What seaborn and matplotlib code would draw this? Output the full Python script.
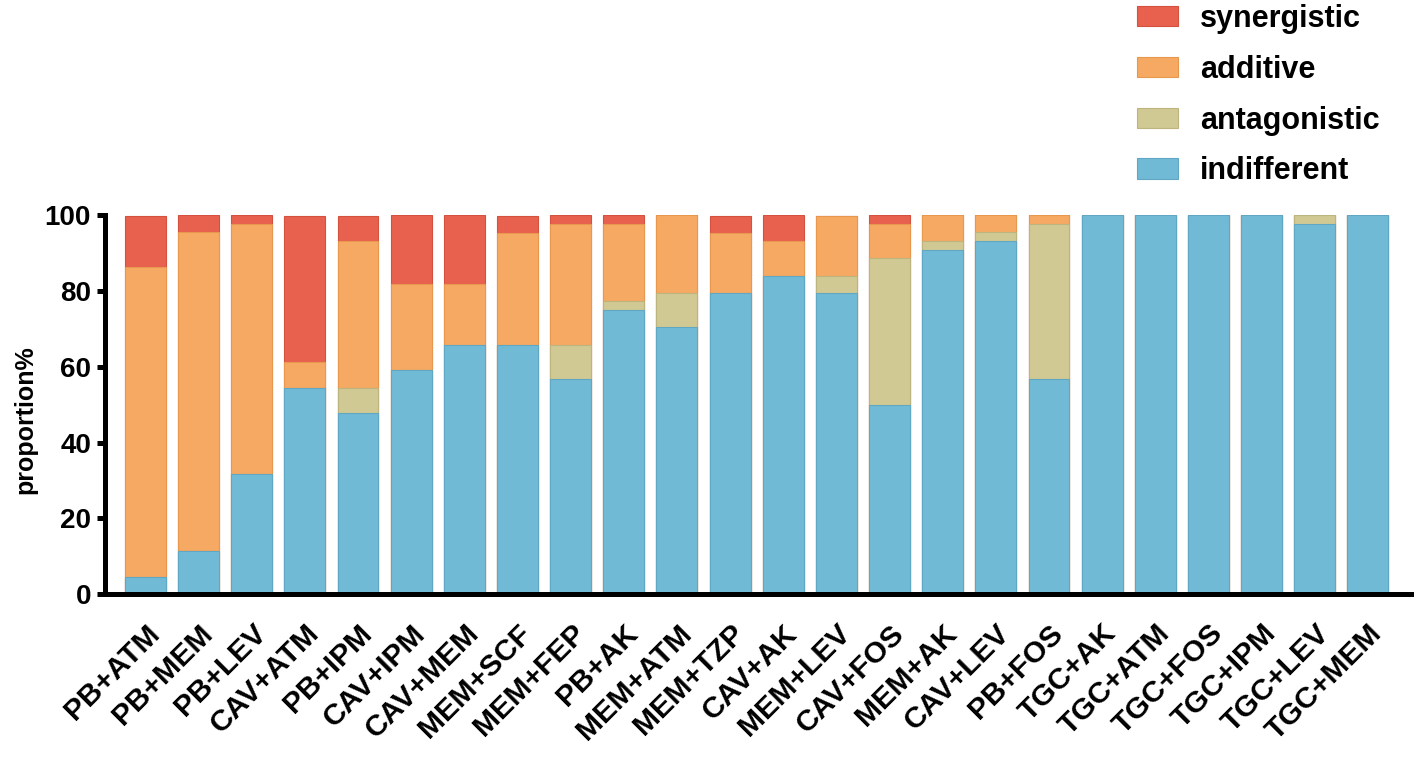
import matplotlib
matplotlib.use("Agg")
import matplotlib.pyplot as plt
from matplotlib.patches import Patch
import numpy as np
import pandas as pd
import seaborn as sns

# drug combinations along the x axis
combos = ["PB+ATM", "PB+MEM", "PB+LEV", "CAV+ATM", "PB+IPM", "CAV+IPM",
          "CAV+MEM", "MEM+SCF", "MEM+FEP", "PB+AK", "MEM+ATM", "MEM+TZP",
          "CAV+AK", "MEM+LEV", "CAV+FOS", "MEM+AK", "CAV+LEV", "PB+FOS",
          "TGC+AK", "TGC+ATM", "TGC+FOS", "TGC+IPM", "TGC+LEV", "TGC+MEM"]

# proportion (%) of each interaction type per combination
indifferent = [4.5, 11.4, 31.8, 54.5, 47.7, 59.1, 65.9, 65.9, 56.8, 75.0, 70.5, 79.5,
               84.1, 79.5, 50.0, 90.9, 93.2, 56.8, 100, 100, 100, 100, 97.7, 100]
antagonistic = [0, 0, 0, 0, 6.8, 0, 0, 0, 9.1, 2.3, 9.1, 0,
                0, 4.5, 38.6, 2.3, 2.3, 40.9, 0, 0, 0, 0, 2.3, 0]
additive = [81.8, 84.1, 65.9, 6.8, 38.6, 22.7, 15.9, 29.5, 31.8, 20.5, 20.5, 15.9,
            9.1, 15.9, 9.1, 6.8, 4.5, 2.3, 0, 0, 0, 0, 0, 0]
synergistic = [13.6, 4.5, 2.3, 38.6, 6.8, 18.2, 18.2, 4.5, 2.3, 2.3, 0, 4.5,
               6.8, 0, 2.3, 0, 0, 0, 0, 0, 0, 0, 0, 0]

# bottom-to-top stacking order
categories = ["indifferent", "antagonistic", "additive", "synergistic"]
colors = {"synergistic": "#E8614F", "additive": "#F6A962",
          "antagonistic": "#D1C993", "indifferent": "#71BAD5"}
edges = {"synergistic": "#D4503F", "additive": "#E8974F",
         "antagonistic": "#BDB47E", "indifferent": "#5FA7C3"}

df = pd.DataFrame({"combo": combos, "indifferent": indifferent,
                   "antagonistic": antagonistic, "additive": additive,
                   "synergistic": synergistic})
tops = df[categories].cumsum(axis=1)

sns.set_style("white")
plt.rcParams["font.family"] = ["Liberation Sans", "DejaVu Sans"]
plt.rcParams["font.weight"] = "bold"
for key in ["text.color", "axes.labelcolor", "xtick.color", "ytick.color"]:
    plt.rcParams[key] = "black"

fig = plt.figure(figsize=(14.17, 7.58), dpi=100)
ax = fig.add_axes([0.0741, 0.216, 0.922, 0.5])

# draw cumulative tops from the highest layer down so each layer covers the one above it
for cat in categories[::-1]:
    sns.barplot(x=df["combo"], y=tops[cat], order=combos, color=colors[cat],
                edgecolor=edges[cat], linewidth=0.8, width=0.77,
                saturation=1, ax=ax)

ax.set_xlim(-0.76, 23.82)
ax.set_ylim(0, 100)
ax.set_yticks([0, 20, 40, 60, 80, 100])
ax.set_xlabel("")
ax.set_ylabel("proportion%", fontsize=18, fontweight="bold")
ax.yaxis.set_label_coords(-0.052, 0.462)

sns.despine(ax=ax)
for side in ["left", "bottom"]:
    ax.spines[side].set_linewidth(3.6)
    ax.spines[side].set_color("black")

ax.tick_params(axis="y", direction="out", length=6, width=3.6, labelsize=20, pad=4, left=True)
ax.tick_params(axis="x", length=0, labelsize=21.5, pad=18)
for lab in ax.get_xticklabels():
    lab.set_rotation(45)
    lab.set_ha("right")
    lab.set_va("top")
    lab.set_rotation_mode("anchor")
    lab.set_fontweight("bold")
for lab in ax.get_yticklabels():
    lab.set_fontweight("bold")

handles = [Patch(facecolor=colors[c], edgecolor=edges[c], linewidth=0.8, label=c)
           for c in categories[::-1]]
fig.legend(handles=handles, loc="upper left", bbox_to_anchor=(1137 / 1417, 1 - 4 / 758),
           frameon=False, prop={"weight": "bold", "size": 22},
           handlelength=1.34, handleheight=0.65, handletextpad=0.72,
           labelspacing=0.68, borderpad=0, borderaxespad=0)

fig.savefig("out.png", dpi=100)
